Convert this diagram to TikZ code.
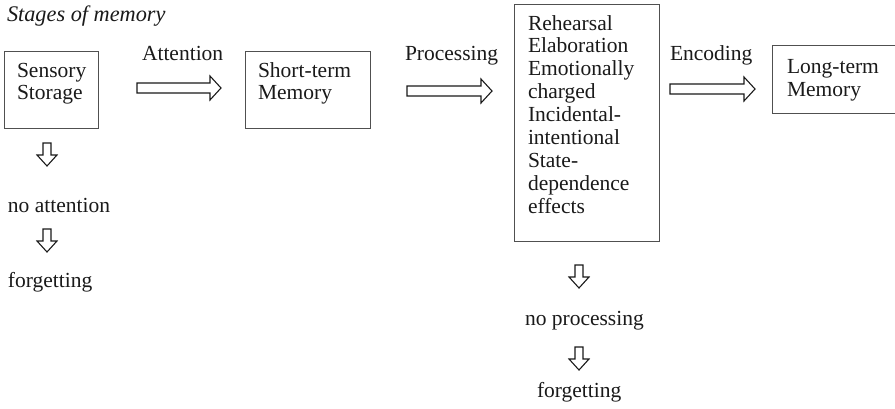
\documentclass[tikz,border=0pt]{standalone}
\usepackage{fontspec}
\setmainfont{Liberation Serif}
\usetikzlibrary{calc}
\definecolor{boxline}{HTML}{505050}
\definecolor{inkc}{HTML}{1A1A1A}
\tikzset{
  txt/.style={inner sep=0pt, outer sep=0pt, text=inkc, align=left, anchor=base west,
    font=\fontsize{21.5}{22.9}\selectfont},
  memorybox/.style={draw=boxline, line width=1.1pt, inner sep=0pt, anchor=north west},
  blockarrow/.style={draw=inkc, line width=1.1pt, fill=white, line join=miter},
}
\newcommand{\harrow}[2]{%
  \draw[blockarrow] ($(#1)+(0,-5)$) -- ($(#2)+(-11,-5)$) -- ($(#2)+(-11,-12)$) -- (#2)
    -- ($(#2)+(-11,12)$) -- ($(#2)+(-11,5)$) -- ($(#1)+(0,5)$) -- cycle;}
\newcommand{\varrow}[2]{%
  \draw[blockarrow] ($(#1)+(-4,0)$) -- ($(#2)+(-4,-11)$) -- ($(#2)+(-10,-11)$) -- (#2)
    -- ($(#2)+(10,-11)$) -- ($(#2)+(4,-11)$) -- ($(#1)+(4,0)$) -- cycle;}
\begin{document}
\begin{tikzpicture}[x=1pt,y=-1pt]
\clip (0,0) rectangle (895,408);
\fill[white] (0,0) rectangle (895,408);

\node[txt, font=\fontsize{22.3}{22.9}\selectfont\itshape] (title) at (7,21) {Stages of memory};

% boxes
\node[memorybox, minimum width=94pt, minimum height=77pt] (sensory) at (4,51) {};
\node[memorybox, minimum width=125pt, minimum height=77pt] (short) at (245,51) {};
\node[memorybox, minimum width=145pt, minimum height=237pt] (proc) at (514,4) {};
\node[memorybox, minimum width=140pt, minimum height=68pt] (long) at (772,45) {};

% box texts (anchor = baseline of the last line)
\node[txt] (sensorytxt) at (17,99.9) {Sensory\\Storage};
\node[txt] (shorttxt) at (258,99.9) {Short-term\\Memory};
\node[txt] (proctxt) at (528,213.2) {Rehearsal\\Elaboration\\Emotionally\\charged\\Incidental-\\intentional\\State-\\dependence\\effects};
\node[txt] (longtxt) at (787,96) {Long-term\\Memory};

% arrow labels
\node[txt] (attlbl) at (142,60) {Attention};
\node[txt] (proclbl) at (405,60) {Processing};
\node[txt] (enclbl) at (670,60) {Encoding};

% horizontal arrows
\coordinate (a1s) at (137,88); \coordinate (a1e) at (221,88);
\coordinate (a2s) at (407,91); \coordinate (a2e) at (492,91);
\coordinate (a3s) at (670,89); \coordinate (a3e) at (755,89);
\harrow{a1s}{a1e}
\harrow{a2s}{a2e}
\harrow{a3s}{a3e}

% left column
\coordinate (d1s) at (47,143); \coordinate (d1e) at (47,166);
\node[txt] (noatt) at (8,212) {no attention};
\coordinate (d2s) at (47,229); \coordinate (d2e) at (47,252);
\node[txt] (forget1) at (8,287) {forgetting};
\varrow{d1s}{d1e}
\varrow{d2s}{d2e}

% right column
\coordinate (d3s) at (579,265); \coordinate (d3e) at (579,288);
\node[txt] (noproc) at (525,325) {no processing};
\coordinate (d4s) at (579,347); \coordinate (d4e) at (579,370);
\node[txt] (forget2) at (537,397) {forgetting};
\varrow{d3s}{d3e}
\varrow{d4s}{d4e}
\end{tikzpicture}
\end{document}
